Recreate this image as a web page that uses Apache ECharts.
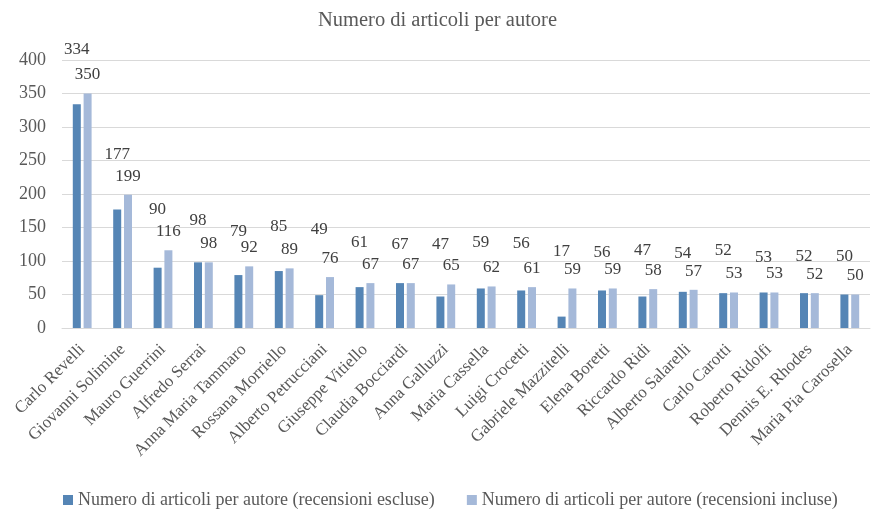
<!DOCTYPE html>
<html>
<head>
<meta charset="utf-8">
<script src="https://cdn.jsdelivr.net/npm/echarts@6/dist/echarts.min.js"></script>
<style>
  html, body { margin: 0; padding: 0; background: #fff; }
  #chart { width: 875px; height: 513px; }
</style>
</head>
<body>
<div id="chart"></div>
<script>
// Authors and article counts
const authors = [
  'Carlo Revelli', 'Giovanni Solimine', 'Mauro Guerrini', 'Alfredo Serrai',
  'Anna Maria Tammaro', 'Rossana Morriello', 'Alberto Petrucciani',
  'Giuseppe Vitiello', 'Claudia Bocciardi', 'Anna Galluzzi', 'Maria Cassella',
  'Luigi Crocetti', 'Gabriele Mazzitelli', 'Elena Boretti', 'Riccardo Ridi',
  'Alberto Salarelli', 'Carlo Carotti', 'Roberto Ridolfi', 'Dennis E. Rhodes',
  'Maria Pia Carosella'
];
const withoutReviews = [334, 177, 90, 98, 79, 85, 49, 61, 67, 47, 59, 56, 17, 56, 47, 54, 52, 53, 52, 50];
const withReviews    = [350, 199, 116, 98, 92, 89, 76, 67, 67, 65, 62, 61, 59, 59, 58, 57, 53, 53, 52, 50];
const seriesNames = [
  'Numero di articoli per autore (recensioni escluse)',
  'Numero di articoli per autore (recensioni incluse)'
];
const yTicks = { min: 0, max: 400, step: 50 };

// Hand-placed label lift (px above bar top) for the first series
const liftFirst = [46, 46, 50, 33, 35, 36, 57, 36, 30, 43, 37, 38, 57, 29, 37, 30, 34, 26, 28, 29];

const FONT = '"Liberation Serif", "Times New Roman", serif';
const TEXT = '#595959';
const LABEL = '#404040';

const chart = echarts.init(document.getElementById('chart'), null, { renderer: 'canvas' });

chart.setOption({
  animation: false,
  title: {
    text: 'Numero di articoli per autore',
    left: 'center',
    top: 5,
    textStyle: { fontFamily: FONT, fontSize: 20.5, fontWeight: 'normal', color: TEXT }
  },
  legend: {
    top: 486,
    left: 58,
    itemWidth: 10,
    itemHeight: 10,
    itemGap: 32,
    icon: 'rect',
    textStyle: { fontFamily: FONT, fontSize: 18, color: TEXT },
    data: seriesNames
  },
  grid: { left: 62, right: 5, top: 60, bottom: 185, containLabel: false },
  xAxis: {
    type: 'category',
    data: authors,
    axisLine: { lineStyle: { color: '#d9d9d9', width: 1 } },
    axisTick: { show: false },
    axisLabel: {
      rotate: 45,
      interval: 0,
      margin: 19,
      fontFamily: FONT,
      fontSize: 17,
      color: TEXT
    }
  },
  yAxis: {
    type: 'value',
    min: yTicks.min,
    max: yTicks.max,
    interval: yTicks.step,
    axisLine: { show: false },
    axisTick: { show: false },
    splitLine: { lineStyle: { color: '#d9d9d9', width: 1 } },
    axisLabel: { fontFamily: FONT, fontSize: 18, color: TEXT, margin: 16 }
  },
  series: [
    {
      name: seriesNames[0],
      type: 'bar',
      barWidth: 8,
      barGap: '35%',
      itemStyle: { color: '#5585b5' },
      data: withoutReviews.map((v, i) => ({
        value: v,
        label: { distance: liftFirst[i] }
      })),
      label: {
        show: true,
        position: 'top',
        fontFamily: FONT,
        fontSize: 17,
        color: LABEL
      }
    },
    {
      name: seriesNames[1],
      type: 'bar',
      barWidth: 8,
      itemStyle: { color: '#a5b9d9' },
      data: withReviews,
      label: {
        show: true,
        position: 'top',
        distance: 10,
        fontFamily: FONT,
        fontSize: 17,
        color: LABEL
      }
    }
  ]
});
</script>
</body>
</html>
